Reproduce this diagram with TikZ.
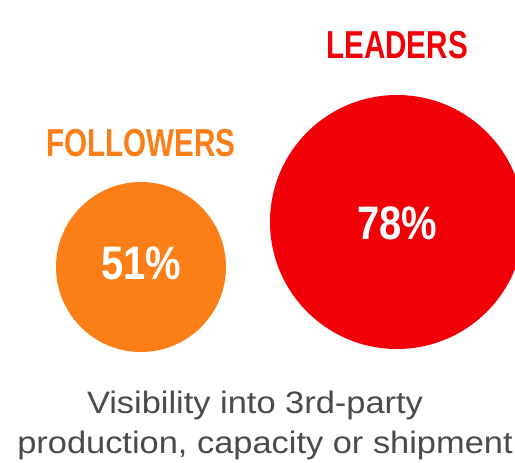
\documentclass[tikz,border=0pt]{standalone}
\usepackage{fontspec}
\setmainfont{Liberation Sans}
\newfontfamily\condfont[FakeStretch=0.76]{Liberation Sans}
\newfontfamily\numfont[FakeStretch=0.85]{Liberation Sans}
\newfontfamily\widefont[FakeStretch=1.11]{Liberation Sans}
\definecolor{leadred}{HTML}{F20007}
\definecolor{follorange}{HTML}{FC7E17}
\definecolor{textgray}{HTML}{4A4A4A}
\begin{document}
\begin{tikzpicture}[x=1pt,y=-1pt,
  title/.style={font=\condfont\bfseries\fontsize{39}{39}\selectfont, anchor=base, inner sep=0pt},
  pct/.style={font=\numfont\bfseries\fontsize{47}{47}\selectfont, text=white, anchor=base, inner sep=0pt},
  caption/.style={font=\widefont\fontsize{31}{31}\selectfont, text=textgray, anchor=base, inner sep=0pt}]
\useasboundingbox (0,0) rectangle (515,463);
\begin{scope}
\clip (0,0) rectangle (515,463);
\fill[leadred] (397,222) circle[radius=127pt];
\end{scope}
\fill[follorange] (141,267) circle[radius=85pt];
\node[title, text=leadred] (leaders) at (397,59) {LEADERS};
\node[title, text=follorange] (followers) at (141,156) {FOLLOWERS};
\node[pct] (p78) at (397,239) {78\%};
\node[pct] (p51) at (141,279) {51\%};
\node[caption] (cap1) at (255,413) {Visibility into 3rd-party};
\node[caption] (cap2) at (265,453) {production, capacity or shipment};
\end{tikzpicture}
\end{document}
